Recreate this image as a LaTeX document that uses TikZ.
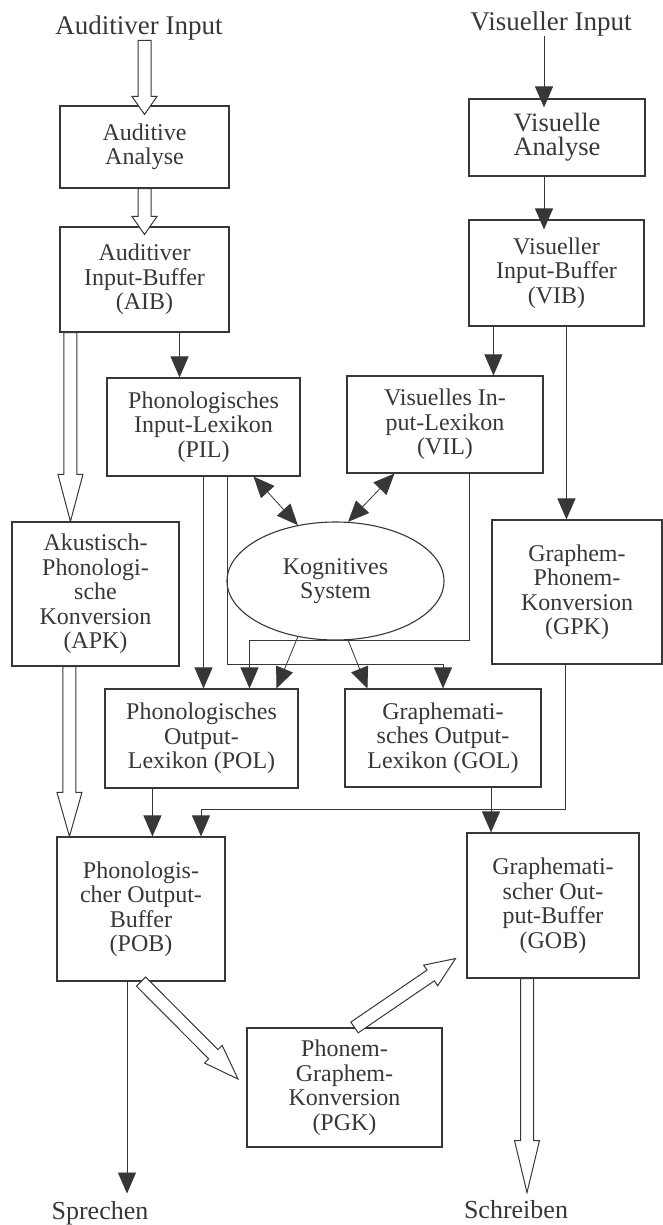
\documentclass[tikz,border=0pt]{standalone}
\usepackage{fontspec}
\setmainfont{Liberation Serif}
\usetikzlibrary{arrows.meta, shapes.geometric, calc, positioning}

\definecolor{LinieGrau}{RGB}{55,55,55}

\begin{document}
\begin{tikzpicture}[x=1pt, y=-1pt,
	kasten/.style={draw=LinieGrau, line width=1.1pt, align=center, inner sep=0pt,
		text=LinieGrau, font=\fontsize{24pt}{24.5pt}\selectfont},
	lbl/.style={inner sep=0pt, text=LinieGrau, font=\fontsize{26.5pt}{26.5pt}\selectfont},
	ar/.style={-{Triangle[length=21pt, width=18pt]}, line width=0.8pt, LinieGrau},
	dar/.style={{Triangle[length=21pt, width=18pt]}-{Triangle[length=21pt, width=18pt]},
		line width=0.8pt, LinieGrau},
	hohl/.style={draw=LinieGrau, line width=1pt, fill=white, line join=miter}]
	\useasboundingbox (0,0) rectangle (663,1225);

	% Ein- und Ausgaben
	\node[lbl, font=\fontsize{27pt}{27pt}\selectfont] (inaud) at (139,28) {Auditiver Input};
	\node[lbl, font=\fontsize{27pt}{27pt}\selectfont] (invis) at (551,24) {Visueller Input};
	\node[lbl, font=\fontsize{26pt}{26pt}\selectfont] (sprechen) at (100,1213) {Sprechen};
	\node[lbl, font=\fontsize{26pt}{26pt}\selectfont] (schreiben) at (516,1210) {Schreiben};

	% Analyse und Buffer
	\node[kasten, minimum width=169pt, minimum height=82pt] (aa) at (144.5,147) {Auditive\\Analyse};
	\node[kasten, minimum width=169pt, minimum height=105pt] (aib) at (144.5,279.5)
		{Auditiver\\Input-Buffer\\(AIB)};
	\node[kasten, minimum width=176pt, minimum height=77pt, font=\fontsize{26.5pt}{24pt}\selectfont]
		(va) at (557,137.5) {Visuelle\\Analyse};
	\node[kasten, minimum width=175pt, minimum height=106pt] (vib) at (556.5,273)
		{Visueller\\Input-Buffer\\(VIB)};

	% Lexika
	\node[kasten, minimum width=193pt, minimum height=98pt] (pil) at (203.5,427)
		{Phonologisches\\Input-Lexikon\\(PIL)};
	\node[kasten, minimum width=196pt, minimum height=97pt] (vil) at (445,424.5)
		{Visuelles In-\\put-Lexikon\\(VIL)};
	\node[kasten, ellipse, minimum width=217pt, minimum height=118pt] (ks) at (335.5,581)
		{Kognitives\\System};
	\node[kasten, minimum width=167pt, minimum height=144pt] (apk) at (95.5,594)
		{Akustisch-\\Phonologi-\\sche\\Konversion\\(APK)};
	\node[kasten, minimum width=170pt, minimum height=144pt] (gpk) at (577,592)
		{Graphem-\\Phonem-\\Konversion\\(GPK)};
	\node[kasten, minimum width=193pt, minimum height=99pt] (pol) at (201.5,738.5)
		{Phonologisches\\Output-\\Lexikon (POL)};
	\node[kasten, minimum width=196pt, minimum height=98pt] (gol) at (443,738)
		{Graphemati-\\sches Output-\\Lexikon (GOL)};

	% Output-Buffer
	\node[kasten, minimum width=168pt, minimum height=144pt] (pob) at (141,909)
		{Phonologis-\\cher Output-\\Buffer\\(POB)};
	\node[kasten, minimum width=172pt, minimum height=145pt] (gob) at (553,905.5)
		{Graphemati-\\scher Out-\\put-Buffer\\(GOB)};
	\node[kasten, minimum width=195pt, minimum height=119pt] (pgk) at (344.5,1087.5)
		{Phonem-\\Graphem-\\Konversion\\(PGK)};

	% Hilfspunkte
	\coordinate (h1a) at (aa.north |- inaud.south);
	\coordinate (h1b) at ($(aa.north)+(0,9)$);
	\coordinate (h2b) at ($(aib.north)+(0,8)$);
	\coordinate (h3a) at ($(aib.south west)+(11,0)$);
	\coordinate (h3b) at (h3a |- apk.north);
	\coordinate (h4a) at ($(apk.south west)+(58,0)$);
	\coordinate (h4b) at (h4a |- pob.north);
	\coordinate (h5b) at ($(pgk.west)!12pt!(pob.south)$);
	\coordinate (h6a) at ($(pgk.north)+(10,0)$);
	\coordinate (h6b) at ($(gob.south west)+(-11,-20)$);
	\coordinate (h7a) at ($(gob.south)+(-26,0)$);
	\coordinate (h7b) at ($(h7a)+(0,214)$);

	% breite Pfeile
	\foreach \a/\b/\h in {h1a/h1b/18pt, aa.south/h2b/18pt, h3a/h3b/47pt, h4a/h4b/44pt,
		pob.south/h5b/35pt, h6a/h6b/30pt, h7a/h7b/52pt}{
		\coordinate (hb) at ($(\b)!\h!(\a)$);
		\draw[hohl] ($(\a)!6.5pt!90:(\b)$) -- ($(hb)!6.5pt!90:(\b)$) -- ($(hb)!12.5pt!90:(\b)$)
			-- (\b) -- ($(hb)!12.5pt!-90:(\b)$) -- ($(hb)!6.5pt!-90:(\b)$)
			-- ($(\a)!6.5pt!-90:(\b)$) -- cycle;}

	% visueller Weg
	\coordinate (v1) at ($(va.north)+(-13,9)$);
	\coordinate (v2) at ($(vib.north)+(-12.5,10)$);
	\coordinate (v3) at ($(vib.south west)+(25,0)$);
	\coordinate (v4) at ($(vib.south west)+(98,0)$);
	\coordinate (v5) at ($(vil.south west)+(48,0)$);
	\coordinate (v6) at ($(vil.south)+(24,0)$);
	\draw[ar] (v1 |- invis.south) -- (v1);
	\draw[ar] (v2 |- va.south) -- (v2);
	\draw[ar] (v3) -- (v3 |- vil.north);
	\draw[ar] (v4) -- (v4 |- gpk.north);
	\draw[dar] (v5) -- (ks.78);

	% auditiver Weg
	\coordinate (a1) at ($(aib.south east)+(-50,0)$);
	\coordinate (p1) at ($(pil.south east)+(-47,0)$);
	\coordinate (p2) at ($(pil.south)+(24,0)$);
	\draw[ar] (a1) -- (a1 |- pil.north);
	\draw[dar] (p1) -- (ks.124);
	\draw[ar] (pil.south) -- (pil.south |- pol.north);
	\draw[ar] (p2) |- ($(gol.north)+(0,-24)$) -- (gol.north);

	% in die Output-Lexika
	\coordinate (o1) at ($(pol.north)+(48,0)$);
	\coordinate (o2) at ($(pol.north)+(75,0)$);
	\coordinate (o3) at ($(gol.north west)+(23,0)$);
	\draw[ar] (v6) |- ($(o1)+(0,-48)$) -- (o1);
	\draw[ar] (ks.236) -- (o2);
	\draw[ar] (ks.282) -- (o3);

	% in die Output-Buffer
	\coordinate (o4) at ($(pol.south west)+(48,0)$);
	\coordinate (o5) at ($(pob.north)+(60,0)$);
	\coordinate (g1) at ($(gpk.south)+(-12,0)$);
	\coordinate (g2) at ($(gol.south)+(48,0)$);
	\coordinate (o6) at ($(pob.south)+(-14,0)$);
	\draw[ar] (o4) -- (o4 |- pob.north);
	\draw[ar] (g1) |- ($(o5)+(0,-27)$) -- (o5);
	\draw[ar] (g2) -- (g2 |- gob.north);
	\draw[ar] (o6) -- ($(o6)+(0,212)$);
\end{tikzpicture}
\end{document}
